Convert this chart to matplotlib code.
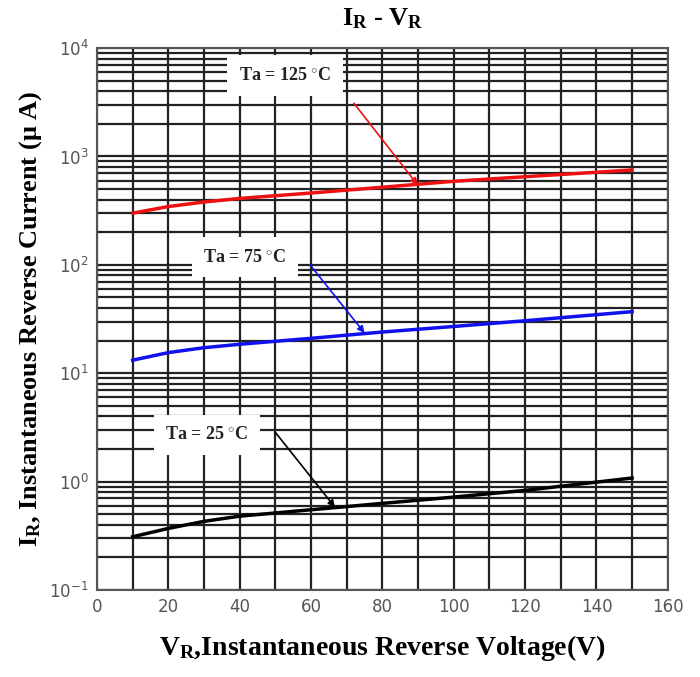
import numpy as np
import matplotlib.pyplot as plt
from matplotlib.ticker import LogLocator, FixedLocator, NullFormatter

plt.rcParams['mathtext.fontset'] = 'custom'
plt.rcParams['mathtext.bf'] = 'Liberation Serif:bold'
plt.rcParams['mathtext.rm'] = 'Liberation Serif'
plt.rcParams['mathtext.it'] = 'Liberation Serif:italic'

# reverse current vs reverse voltage
vr = [10, 20, 30, 40, 60, 80, 100, 120, 150]
ir_125 = [300, 345, 380, 410, 460, 520, 590, 650, 750]
ir_75 = [13.2, 15.5, 17.2, 18.5, 21, 24, 27, 30.5, 37]
ir_25 = [0.31, 0.37, 0.43, 0.48, 0.55, 0.63, 0.72, 0.83, 1.08]

labels = ['Ta = 125 $^{\\circ}$C', 'Ta = 75 $^{\\circ}$C', 'Ta = 25 $^{\\circ}$C']
label_xy = [(52.7, 5600), (41.5, 118), (30.8, 2.7)]
arrow_start = [(72, 3100), (59.7, 100), (49.9, 2.87)]
arrow_end = [(89.9, 545), (75, 23.5), (66.7, 0.58)]
colors = ['#ee1111', '#1111ee', '#000000']

fig = plt.figure(figsize=(7, 6.77), dpi=100)
ax = fig.add_axes([0.1386, 0.1285, 0.8154, 0.8005])

ax.set_yscale('log')
ax.set_xlim(0, 160)
ax.set_ylim(0.1, 1e4)

ax.xaxis.set_major_locator(FixedLocator(np.arange(0, 161, 20)))
ax.xaxis.set_minor_locator(FixedLocator(np.arange(10, 160, 20)))
ax.yaxis.set_major_locator(LogLocator(base=10, numticks=10))
ax.yaxis.set_minor_locator(LogLocator(base=10, subs=np.arange(2, 10), numticks=20))
ax.yaxis.set_minor_formatter(NullFormatter())

ax.grid(True, which='both', color='#222222', lw=1.6)
ax.set_axisbelow(True)
ax.tick_params(which='both', length=0)
ax.tick_params(labelsize=12, colors='#555555', pad=6)
for s in ax.spines.values():
    s.set_color('#555555')
    s.set_linewidth(1.5)

for ys, c in zip([ir_125, ir_75, ir_25], colors):
    ax.plot(vr, ys, color=c, lw=2.5, zorder=3)

for lab, xy, a0, a1, c in zip(labels, label_xy, arrow_start, arrow_end, colors):
    ax.text(xy[0], xy[1], lab, ha='center', va='center', fontsize=13,
            family='Liberation Serif', weight='bold', color='#222222', zorder=5,
            bbox=dict(boxstyle='square,pad=0.65', fc='white', ec='none'))
    ax.annotate('', xy=a1, xytext=a0, zorder=4,
                arrowprops=dict(arrowstyle='-|>', color=c, lw=1.2,
                                mutation_scale=10, shrinkA=0, shrinkB=0))

ax.set_title('I$_{\\mathbf{R}}$ - V$_{\\mathbf{R}}$', fontsize=19, weight='bold',
             family='Liberation Serif', pad=16)
ax.set_ylabel('I$_{\\mathbf{R}}$, Instantaneous Reverse Current ($\\mathbf{\\mu}$ A)',
              fontsize=19, weight='bold', family='Liberation Serif', labelpad=4)
ax.set_xlabel('V$_{\\mathbf{R}}$,Instantaneous Reverse Voltage(V)', fontsize=20,
              weight='bold', family='Liberation Serif', labelpad=12)

fig.savefig('out.png', dpi=100)
